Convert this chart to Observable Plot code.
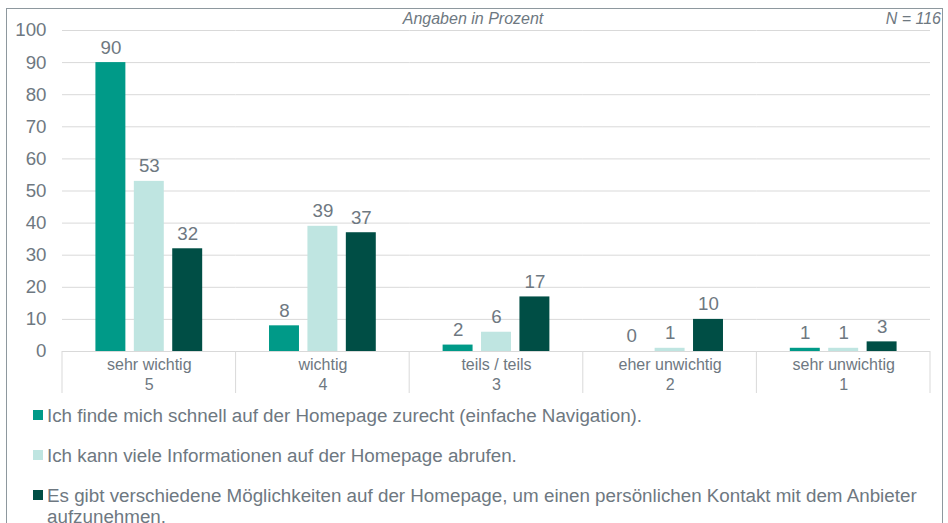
<!DOCTYPE html>
<html><head><meta charset="utf-8">
<script src="https://cdn.jsdelivr.net/npm/d3@7"></script>
<script src="https://cdn.jsdelivr.net/npm/@observablehq/plot@0.6"></script>
<style>
body{margin:0;background:#fff;font-family:"Liberation Sans",Arial,sans-serif;}
#wrap{position:relative;width:948px;height:523px;overflow:hidden;background:#fff;}
#frame{position:absolute;left:6px;top:8px;width:937px;height:600px;border:1px solid #8E989E;box-sizing:border-box;}
#chart{position:absolute;left:0;top:0;}
.note{position:absolute;top:10px;font-size:16px;font-style:italic;color:#6E7881;line-height:18px;white-space:nowrap;}
#legend{position:absolute;left:33px;top:405px;width:905px;color:#6E7881;font-size:18.8px;line-height:21px;}
.item{display:flex;align-items:flex-start;margin-bottom:19px;}
.sw{flex:0 0 auto;width:10px;height:10px;margin-top:5px;margin-right:4px;}
</style></head>
<body>
<div id="wrap">
  <div id="frame"></div>
  <div id="chart"></div>
  <div class="note" id="note1" style="left:0;width:946px;text-align:center;"></div>
  <div class="note" id="note2" style="right:7px;"></div>
  <div id="legend"></div>
</div>
<script>
const categories = ["sehr wichtig", "wichtig", "teils / teils", "eher unwichtig", "sehr unwichtig"];
const codes = ["5", "4", "3", "2", "1"];
const series = [
  "Ich finde mich schnell auf der Homepage zurecht (einfache Navigation).",
  "Ich kann viele Informationen auf der Homepage abrufen.",
  "Es gibt verschiedene Möglichkeiten auf der Homepage, um einen persönlichen Kontakt mit dem Anbieter aufzunehmen."
];
const navigation = [90, 8, 2, 0, 1];
const informationen = [53, 39, 6, 1, 1];
const kontakt = [32, 37, 17, 10, 3];
const colors = ["#009A88", "#BFE5E1", "#004E45"];
const yTicks = [0, 10, 20, 30, 40, 50, 60, 70, 80, 90, 100];
const noteLeft = "Angaben in Prozent";
const noteRight = "N = 116";

const textColor = "#6E7881";
const seriesValues = [navigation, informationen, kontakt];
const data = [];
categories.forEach((c, i) => series.forEach((s, j) => data.push({category: c, series: s, value: seriesValues[j][i]})));
const catRows = categories.map((c, i) => ({category: c, label: c + "\n" + codes[i]}));

const chart = Plot.plot({
  width: 948, height: 400,
  marginLeft: 62, marginRight: 18, marginTop: 30, marginBottom: 49,
  style: {fontFamily: "Liberation Sans, Arial, sans-serif", color: textColor, background: "transparent"},
  fx: {domain: categories, padding: 0, round: false, axis: null, label: null},
  x: {domain: series, paddingInner: 0.22, paddingOuter: 0.87, round: false, axis: null},
  y: {domain: [0, 100], axis: null},
  color: {domain: series, range: colors},
  marks: [
    Plot.gridY(yTicks, {stroke: "#D9D9D9", strokeOpacity: 1}),
    Plot.axisY(yTicks, {tickSize: 0, tickPadding: 16, fontSize: 18.7, label: null}),
    Plot.text(catRows, {fx: "category", text: "label", frameAnchor: "bottom", lineAnchor: "top", dy: 4,
      fontSize: 16, lineHeight: 1.25, fill: textColor}),
    Plot.barY(data, {fx: "category", x: "series", y: "value", fill: "series"}),
    Plot.text(data, {fx: "category", x: "series", y: "value", text: d => String(d.value), dy: -15, fontSize: 18.7, fill: textColor})
  ]
});
document.getElementById("chart").appendChild(chart);

// separators of the category table below the axis
const fxs = chart.scale("fx");
const ys = chart.scale("y");
const r0 = fxs.range[0], r1 = fxs.range[1];
const step = (r1 - r0) / fxs.domain.length;
const y0 = ys.apply ? ys.apply(0) : ys.range[0];
const g = d3.select(chart).append("g").attr("stroke", "#D9D9D9");
d3.range(fxs.domain.length + 1).forEach(i => {
  g.append("line").attr("x1", r0 + i * step).attr("x2", r0 + i * step).attr("y1", y0).attr("y2", y0 + 42);
});

document.getElementById("note1").textContent = noteLeft;
document.getElementById("note2").textContent = noteRight;

const legend = document.getElementById("legend");
series.forEach((s, j) => {
  const it = document.createElement("div");
  it.className = "item";
  const sw = document.createElement("span");
  sw.className = "sw";
  sw.style.background = colors[j];
  const tx = document.createElement("span");
  tx.textContent = s;
  it.appendChild(sw); it.appendChild(tx);
  legend.appendChild(it);
});
</script>
</body></html>
